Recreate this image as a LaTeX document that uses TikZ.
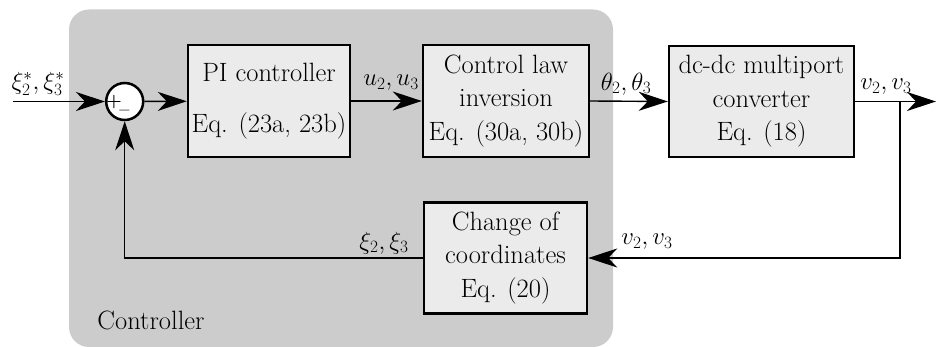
\documentclass[tikz,border=0pt]{standalone}
\usepackage{fontspec}
\usetikzlibrary{arrows.meta}

\definecolor{regiongray}{HTML}{CCCCCC}
\definecolor{blockfill}{HTML}{EBEBEB}

\tikzset{
  block/.style={draw=black, line width=2.4pt, fill=blockfill, align=center,
    inner sep=1pt, font=\fontsize{26.5}{33.5}\selectfont},
  sumjunction/.style={circle, draw=black, line width=2.5pt, fill=white,
    minimum size=37pt, inner sep=0pt},
  signal/.style={line width=1.4pt, -{Stealth[length=29pt,width=19pt,inset=9pt]}},
  siglabel/.style={font=\fontsize{25}{30}\selectfont, inner sep=0pt},
  signmark/.style={font=\fontsize{18}{18}\selectfont, inner sep=0pt}
}

\begin{document}
\begin{tikzpicture}[x=1pt,y=-1pt]
\useasboundingbox (0,0) rectangle (936,347);

% shaded controller region
\fill[regiongray, rounded corners=20pt] (69,9.5) rectangle (613,347);
\node[font=\fontsize{26.5}{30}\selectfont, inner sep=0pt] (ctrl) at (151,320) {Controller};

% blocks
\node[sumjunction] (sum) at (124.7,101.5) {};
\node[signmark] (plus) at (114,102.5) {\textbf{+}};
\node[signmark] (minus) at (124.5,112.5) {\textbf{\textendash}};

\node[block, minimum width=162pt, minimum height=112pt] (pi) at (269,101)
  {PI controller\\[17pt]Eq. (23a, 23b)};
\node[block, minimum width=166pt, minimum height=112pt] (cl) at (506,101)
  {Control law\\inversion\\Eq. (30a, 30b)};
\node[block, minimum width=185pt, minimum height=111pt] (dc) at (761.5,101.5)
  {dc-dc multiport\\converter\\Eq. (18)};
\node[block, minimum width=163pt, minimum height=111pt] (ch) at (505.5,258)
  {Change of\\coordinates\\Eq. (20)};

% external ends
\coordinate (in) at (13,101.5);
\coordinate (out) at (936,101.5);
\coordinate (branch) at (900,101.5);

% forward path
\draw[signal] (in) -- (sum);
\draw[signal] (sum) -- (pi);
\draw[signal] (pi) -- (cl);
\draw[signal] (cl.east) -- (dc.west);
\draw[signal] (dc.east) -- (out);

% feedback path
\draw[signal] (branch) |- (ch.east);
\draw[signal] (ch.west) -| (sum.south);

% signal labels
\node[siglabel] (lref) at (38,84) {$\xi_2^*,\xi_3^*$};
\node[siglabel] (lu) at (391,83) {$u_2,u_3$};
\node[siglabel] (ltheta) at (626,84) {$\theta_2,\theta_3$};
\node[siglabel] (lvout) at (886,87) {$v_2,v_3$};
\node[siglabel] (lvfb) at (647,242) {$v_2,v_3$};
\node[siglabel] (lxi) at (384,243) {$\xi_2,\xi_3$};
\end{tikzpicture}
\end{document}
